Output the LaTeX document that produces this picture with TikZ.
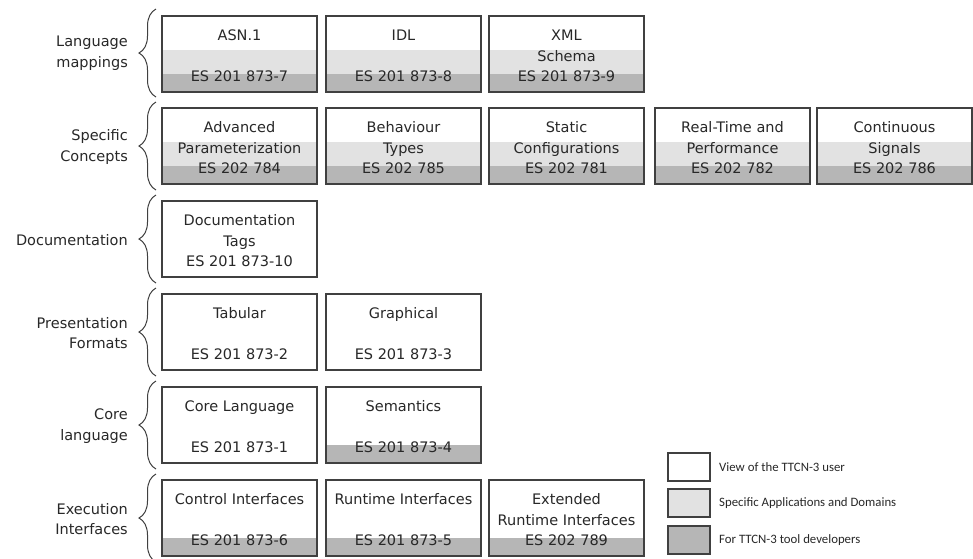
\documentclass[tikz,border=0pt]{standalone}
\usepackage{fontspec}
\setmainfont{DejaVu Sans}
\newfontfamily\legendfont{Carlito}
\usetikzlibrary{decorations.pathreplacing}
\definecolor{lightband}{RGB}{226,226,226}
\definecolor{darkband}{RGB}{182,182,182}
\definecolor{edge}{RGB}{64,64,64}
\definecolor{ink}{RGB}{40,40,40}
\tikzset{
  boxframe/.style={draw=edge, line width=1.3pt, minimum width=155pt, minimum height=76pt, inner sep=0pt},
  boxtext/.style={text=ink, align=center, font=\fontsize{14.5}{20.5}\selectfont, inner sep=0pt},
  grouplabel/.style={text=ink, align=right, anchor=east, font=\fontsize{14.5}{20.5}\selectfont, inner sep=0pt},
  groupbrace/.style={draw=edge, line width=1pt, decorate, decoration={brace, amplitude=17pt}},
  legendbox/.style={draw=edge, line width=1.3pt, minimum width=42pt, minimum height=28pt, inner sep=0pt},
  legendtext/.style={text=ink, anchor=west, font=\legendfont\fontsize{12.8}{15}\selectfont, inner sep=0pt}
}
% #1 name, #2 left x, #3 top y, #4 kind (0 white, 1 dark bottom, 2 three bands), #5 text
\newcommand\ttcnbox[5]{%
  \fill[white] (#2,#3) rectangle ++(155,76);
  \ifcase#4\or
    \fill[darkband] (#2,#3+58) rectangle ++(155,18);
  \or
    \fill[lightband] (#2,#3+34) rectangle ++(155,24);
    \fill[darkband] (#2,#3+58) rectangle ++(155,18);
  \fi
  \node[boxframe] (#1) at (#2+77.5,#3+38) {};
  \node[boxtext] (#1-t) at (#2+77.5,#3+40) {#5};
}
\begin{document}
\begin{tikzpicture}[x=1pt,y=-1pt]
\useasboundingbox (0,0) rectangle (973,558);
\fill[white] (0,0) rectangle (973,558);

% group labels and braces
\node[grouplabel] (lblA) at (128,53) {Language\\mappings};
\node[grouplabel] (lblB) at (128,147) {Specific\\Concepts};
\node[grouplabel] (lblC) at (128,240) {Documentation};
\node[grouplabel] (lblD) at (128,333) {Presentation\\Formats};
\node[grouplabel] (lblE) at (128,426) {Core\\language};
\node[grouplabel] (lblF) at (128,519) {Execution\\Interfaces};

\coordinate (bA1) at (156,97);  \coordinate (bA2) at (156,9);
\coordinate (bB1) at (156,190); \coordinate (bB2) at (156,102);
\coordinate (bC1) at (156,283); \coordinate (bC2) at (156,195);
\coordinate (bD1) at (156,376); \coordinate (bD2) at (156,288);
\coordinate (bE1) at (156,469); \coordinate (bE2) at (156,381);
\coordinate (bF1) at (156,562); \coordinate (bF2) at (156,474);
\draw[groupbrace] (bA1) -- (bA2);
\draw[groupbrace] (bB1) -- (bB2);
\draw[groupbrace] (bC1) -- (bC2);
\draw[groupbrace] (bD1) -- (bD2);
\draw[groupbrace] (bE1) -- (bE2);
\draw[groupbrace] (bF1) -- (bF2);

% row 1: language mappings
\ttcnbox{asn}{162}{16}{2}{ASN.1\\\mbox{}\\ES 201 873-7}
\ttcnbox{idl}{326}{16}{2}{IDL\\\mbox{}\\ES 201 873-8}
\ttcnbox{xml}{489}{16}{2}{XML\\Schema\\ES 201 873-9}
% row 2: specific concepts
\ttcnbox{adv}{162}{108}{2}{Advanced\\Parameterization\\ES 202 784}
\ttcnbox{beh}{326}{108}{2}{Behaviour\\Types\\ES 202 785}
\ttcnbox{sta}{489}{108}{2}{Static\\Configurations\\ES 202 781}
\ttcnbox{rtp}{655}{108}{2}{Real-Time and\\Performance\\ES 202 782}
\ttcnbox{con}{817}{108}{2}{Continuous\\Signals\\ES 202 786}
% row 3: documentation
\ttcnbox{doc}{162}{201}{0}{Documentation\\Tags\\ES 201 873-10}
% row 4: presentation formats
\ttcnbox{tab}{162}{294}{0}{Tabular\\\mbox{}\\ES 201 873-2}
\ttcnbox{gra}{326}{294}{0}{Graphical\\\mbox{}\\ES 201 873-3}
% row 5: core language
\ttcnbox{cor}{162}{387}{0}{Core Language\\\mbox{}\\ES 201 873-1}
\ttcnbox{sem}{326}{387}{1}{Semantics\\\mbox{}\\ES 201 873-4}
% row 6: execution interfaces
\ttcnbox{ctl}{162}{480}{1}{Control Interfaces\\\mbox{}\\ES 201 873-6}
\ttcnbox{rti}{326}{480}{1}{Runtime Interfaces\\\mbox{}\\ES 201 873-5}
\ttcnbox{ext}{489}{480}{1}{Extended\\Runtime Interfaces\\ES 202 789}

% legend
\node[legendbox, fill=white] (lg1) at (689,467) {};
\node[legendbox, fill=lightband] (lg2) at (689,503) {};
\node[legendbox, fill=darkband] (lg3) at (689,540) {};
\node[legendtext] (lt1) at (719,467) {View of the TTCN-3 user};
\node[legendtext] (lt2) at (719,503) {Specific Applications and Domains};
\node[legendtext] (lt3) at (719,540) {For TTCN-3 tool developers};
\end{tikzpicture}
\end{document}
